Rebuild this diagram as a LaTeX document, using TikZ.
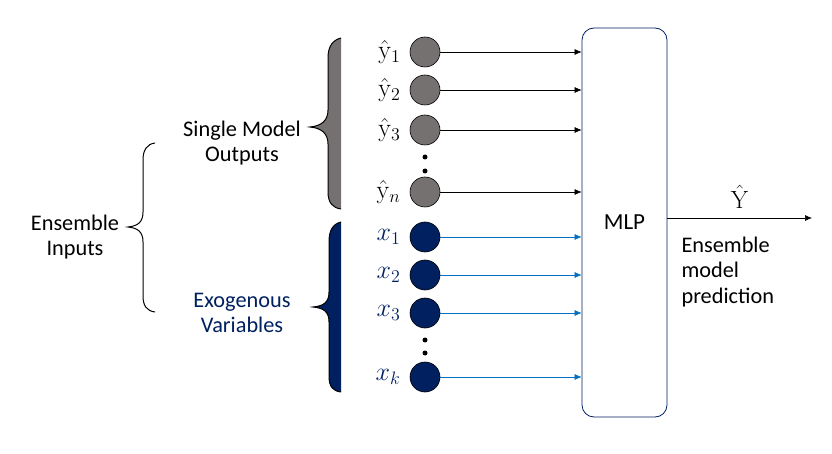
\documentclass[tikz,border=0pt]{standalone}
\usepackage[no-math]{fontspec}
\setmainfont{Carlito}
\usetikzlibrary{arrows.meta}
\definecolor{grayfill}{HTML}{767171}
\definecolor{navyfill}{HTML}{002060}
\definecolor{exoblue}{HTML}{0070C0}

\begin{document}
\begin{tikzpicture}[x=1pt,y=-1pt,
  font=\fontsize{22.3}{25.5}\selectfont,
  unit/.style={circle,draw=black,line width=0.6pt,minimum size=30pt,inner sep=0pt},
  feed/.style={line width=0.6pt,-{Latex[length=7pt,width=6pt]}},
  dotsym/.style={circle,fill=black,inner sep=0pt,minimum size=5pt},
  ylab/.style={left,inner sep=0pt,xshift=-9pt,scale=1.25,font=\fontsize{20}{24}\selectfont}]

\useasboundingbox (0,0) rectangle (832,454);

% filled braces
\fill[grayfill] (341,38) .. controls (333,40) and (328,46) .. (328,58) -- (328,110)
  .. controls (328,120) and (322,126) .. (310,127) .. controls (322,128) and (328,134) .. (328,144)
  -- (328,192) .. controls (328,203) and (333,208) .. (341,209) -- cycle;
\draw[line width=1pt] (341,38) .. controls (333,40) and (328,46) .. (328,58) -- (328,110)
  .. controls (328,120) and (322,126) .. (310,127) .. controls (322,128) and (328,134) .. (328,144)
  -- (328,192) .. controls (328,203) and (333,208) .. (341,209);
\fill[navyfill] (341,222) .. controls (333,224) and (329,230) .. (329,242) -- (329,292)
  .. controls (329,302) and (324,306) .. (313,307) .. controls (324,308) and (329,312) .. (329,322)
  -- (329,376) .. controls (329,387) and (333,391) .. (341,392) -- cycle;
\draw[line width=1pt] (341,222) .. controls (333,224) and (329,230) .. (329,242) -- (329,292)
  .. controls (329,302) and (324,306) .. (313,307) .. controls (324,308) and (329,312) .. (329,322)
  -- (329,376) .. controls (329,387) and (333,391) .. (341,392);

% outer brace
\draw[line width=1pt] (155,143) .. controls (147,144) and (143,150) .. (143,160) -- (143,212)
  .. controls (143,222) and (138,226) .. (128,227) .. controls (138,228) and (143,232) .. (143,242)
  -- (143,296) .. controls (143,306) and (147,311) .. (155,312);

% group labels
\node[align=center] (single) at (242,143) {Single Model\\Outputs};
\node[align=center,text=navyfill] (exo) at (242,313) {Exogenous\\Variables};
\node[align=center] (ens) at (75,237) {Ensemble\\Inputs};

% model outputs
\node[unit,fill=grayfill] (y1) at (425,52) {};
\node[unit,fill=grayfill] (y2) at (425,90) {};
\node[unit,fill=grayfill] (y3) at (425,130) {};
\node[unit,fill=grayfill] (yn) at (425,192) {};
\node[ylab] at (y1.west) {$\hat{\mathrm{y}}_1$};
\node[ylab] at (y2.west) {$\hat{\mathrm{y}}_2$};
\node[ylab] at (y3.west) {$\hat{\mathrm{y}}_3$};
\node[ylab] at (yn.west) {$\hat{\mathrm{y}}_n$};
\node[dotsym] (d1) at (425,157) {};
\node[dotsym] (d2) at (425,171) {};

% exogenous variables
\node[unit,fill=navyfill] (x1) at (425,237) {};
\node[unit,fill=navyfill] (x2) at (425,275) {};
\node[unit,fill=navyfill] (x3) at (425,313) {};
\node[unit,fill=navyfill] (xk) at (425,377) {};
\node[ylab,text=navyfill] at (x1.west) {$x_1$};
\node[ylab,text=navyfill] at (x2.west) {$x_2$};
\node[ylab,text=navyfill] at (x3.west) {$x_3$};
\node[ylab,text=navyfill] at (xk.west) {$x_k$};
\node[dotsym] (d3) at (425,340) {};
\node[dotsym] (d4) at (425,353) {};

% MLP
\node[draw=navyfill,line width=0.8pt,rounded corners=12pt,minimum width=85pt,minimum height=389pt,
  font=\fontsize{23}{27}\selectfont] (mlp) at (624.5,222.5) {MLP};

\draw[feed] (y1) -- (y1 -| mlp.west);
\draw[feed] (y2) -- (y2 -| mlp.west);
\draw[feed] (y3) -- (y3 -| mlp.west);
\draw[feed] (yn) -- (yn -| mlp.west);
\draw[feed,exoblue] (x1) -- (x1 -| mlp.west);
\draw[feed,exoblue] (x2) -- (x2 -| mlp.west);
\draw[feed,exoblue] (x3) -- (x3 -| mlp.west);
\draw[feed,exoblue] (xk) -- (xk -| mlp.west);

% output
\coordinate (yhat) at (812,218);
\draw[feed] (mlp.east |- yhat) -- (yhat) node[midway,above=5pt,scale=1.2,font=\fontsize{20}{24}\selectfont] {$\hat{\mathrm{Y}}$};
\node[align=left,anchor=north west] (pred) at (678,233) {Ensemble\\model\\prediction};
\end{tikzpicture}
\end{document}
